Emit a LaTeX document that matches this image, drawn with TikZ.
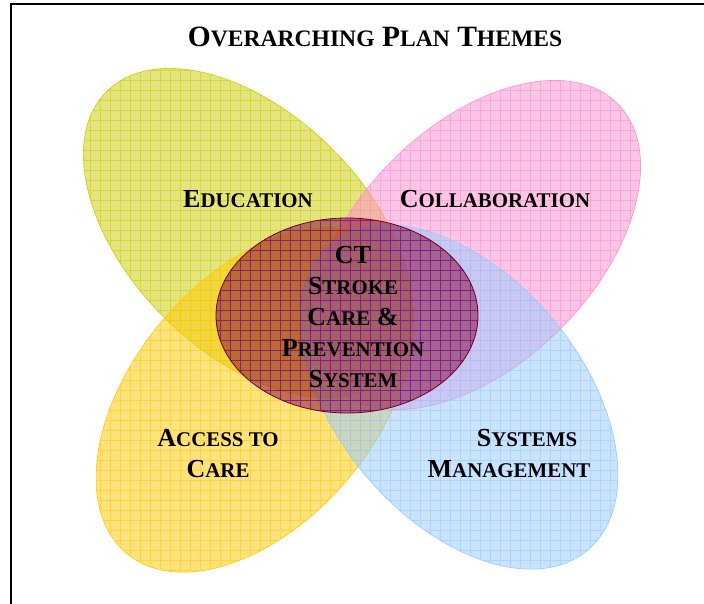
\documentclass[tikz,border=0pt]{standalone}
\usepackage{fontspec}
\setmainfont{Liberation Serif}
\usetikzlibrary{positioning}

\definecolor{eduyellow}{RGB}{204,204,0}
\definecolor{collpink}{RGB}{255,140,205}
\definecolor{accorange}{RGB}{255,200,0}
\definecolor{sysblue}{RGB}{150,200,255}
\definecolor{ctmaroon}{RGB}{128,0,48}
\definecolor{ctgrid}{RGB}{128,0,128}

% first letter large, the rest as small capitals
\newcommand{\capword}[2]{#1{\fontsize{20.9}{31}\selectfont #2}}
\newcommand{\headword}[2]{#1{\fontsize{23.6}{31}\selectfont #2}}

% petal: colour, centre x, centre y, angle, radii
\newcommand{\petal}[6]{%
	\begin{scope}
		\clip (#2,#3) ellipse [x radius=#5pt, y radius=#6pt, rotate=#4];
		\fill[#1, fill opacity=0.5] (0,0) rectangle (704,604);
		\draw[#1, draw opacity=0.55, line width=0.5pt] (0,604) grid[step=10pt] (704,0);
	\end{scope}
	\draw[#1, line width=0.6pt] (#2,#3) ellipse [x radius=#5pt, y radius=#6pt, rotate=#4];
}

\begin{document}
\begin{tikzpicture}[x=1pt, y=-1pt,
			theme/.style={font=\fontsize{26}{31}\selectfont\bfseries, inner sep=0pt, align=center},
			heading/.style={font=\fontsize{29.5}{34}\selectfont\bfseries, inner sep=0pt},
		]
		\useasboundingbox (0,0) rectangle (704,604);
		
			%Frame
			\draw[line width=1.6pt] (11,604) -- (11,4) -- (704,4);
		
			%Petals
			\petal{eduyellow}{248}{233}{-45}{200}{119}
			\petal{collpink}{476}{245}{45}{200}{119}
			\petal{accorange}{255}{400}{50}{200}{122}
			\petal{sysblue}{459}{397}{-50}{200}{122}
		
			%Centre
			\begin{scope}
				\clip (347,315.5) ellipse [x radius=131pt, y radius=97.5pt];
				\fill[ctmaroon, fill opacity=0.5] (0,0) rectangle (704,604);
				\draw[ctgrid, draw opacity=0.7, line width=0.5pt] (0,604) grid[step=10pt] (704,0);
			\end{scope}
			\draw[ctmaroon!85!black, line width=0.8pt] (347,315.5) ellipse [x radius=131pt, y radius=97.5pt];
		
			%Nodes
			\node[heading]	(title)	at (375,37)	{\headword{O}{VERARCHING} \headword{P}{LAN} \headword{T}{HEMES}};
			\node[theme]	(edu)	at (248,199)	{\capword{E}{DUCATION}};
			\node[theme]	(coll)	at (495,199)	{\capword{C}{OLLABORATION}};
			\node[theme]	(ct)	at (353,317)	{CT\\ \capword{S}{TROKE}\\ \capword{C}{ARE} \&\\ \capword{P}{REVENTION}\\ \capword{S}{YSTEM}};
			\node[theme]	(access)	at (218,454)	{\capword{A}{CCESS TO}\\ \capword{C}{ARE}};
			\node[theme]	(systems)	at (509,453)	{\hspace*{36pt}\capword{S}{YSTEMS}\\ \capword{M}{ANAGEMENT}};
		
		\end{tikzpicture}
\end{document}
